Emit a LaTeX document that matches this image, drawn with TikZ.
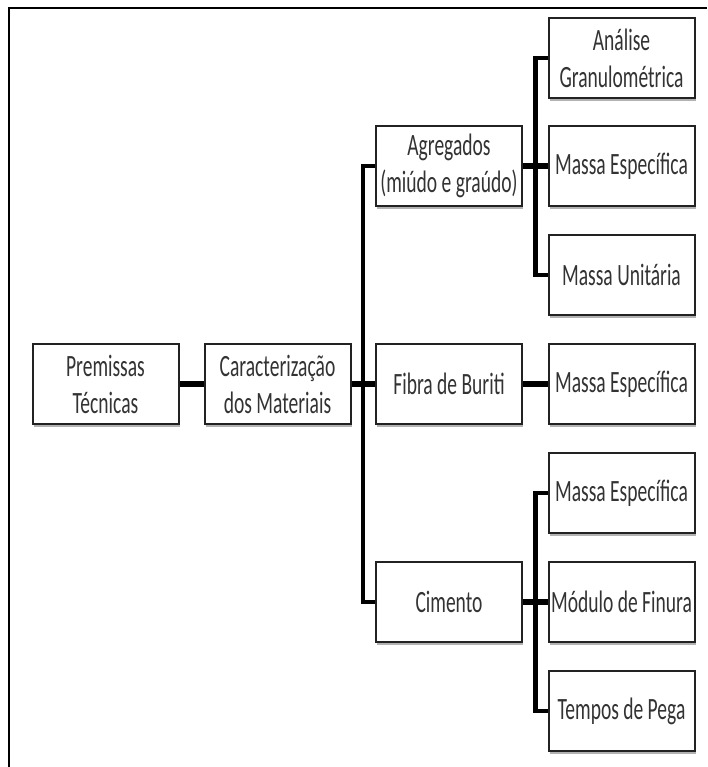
\documentclass[tikz,border=0pt]{standalone}
\usepackage{fontspec}
\setmainfont{Carlito}[FakeStretch=0.63]
\usetikzlibrary{shadows}
\definecolor{txt}{HTML}{333333}
\definecolor{edge}{HTML}{222222}
\begin{document}
\begin{tikzpicture}[x=1pt,y=-1pt,
  box/.style={draw=edge, line width=2pt, fill=white, minimum width=146pt, minimum height=80pt,
    inner sep=0pt, align=center, text=txt, font=\fontsize{31}{37}\selectfont,
    drop shadow={shadow xshift=1pt, shadow yshift=-3pt, fill=black, opacity=0.3}},
  link/.style={line width=6pt, black},
  tree/.style={line width=4.5pt, black, line join=miter}]
\useasboundingbox (0,0) rectangle (707,767);
\draw[line width=2.5pt, black] (9,767) -- (9,8) -- (707,8);
% nodes
\node[box] (prem) at (105.5,384) {Premissas\\Técnicas};
\node[box] (car)  at (277.5,384) {Caracterização\\dos Materiais};
\node[box] (agr)  at (449,166) {Agregados\\(miúdo e graúdo)};
\node[box] (fib)  at (449,384) {Fibra de Buriti};
\node[box] (cim)  at (449,602) {Cimento};
\node[box] (an)   at (621.5,58)  {Análise\\Granulométrica};
\node[box] (me1)  at (621.5,166) {Massa Específica};
\node[box] (mu)   at (621.5,275) {Massa Unitária};
\node[box] (me2)  at (621.5,384) {Massa Específica};
\node[box] (me3)  at (621.5,493) {Massa Específica};
\node[box] (mf)   at (621.5,602) {Módulo de Finura};
\node[box] (tp)   at (621.5,711) {Tempos de Pega};
\coordinate (j1) at (363,384);
\coordinate (j2) at (535.5,384);
% connectors
\draw[link] (prem.east) -- (car.west);
\draw[link] (car.east) -- (fib.west);
\draw[tree] (agr.west) -- (agr.west -| j1) -- (cim.west -| j1) -- (cim.west);
\draw[link] (fib.east) -- (me2.west);
\draw[link] (agr.east) -- (me1.west);
\draw[tree] (an.west) -- (an.west -| j2) -- (mu.west -| j2) -- (mu.west);
\draw[link] (cim.east) -- (mf.west);
\draw[tree] (me3.west) -- (me3.west -| j2) -- (tp.west -| j2) -- (tp.west);
\end{tikzpicture}
\end{document}
